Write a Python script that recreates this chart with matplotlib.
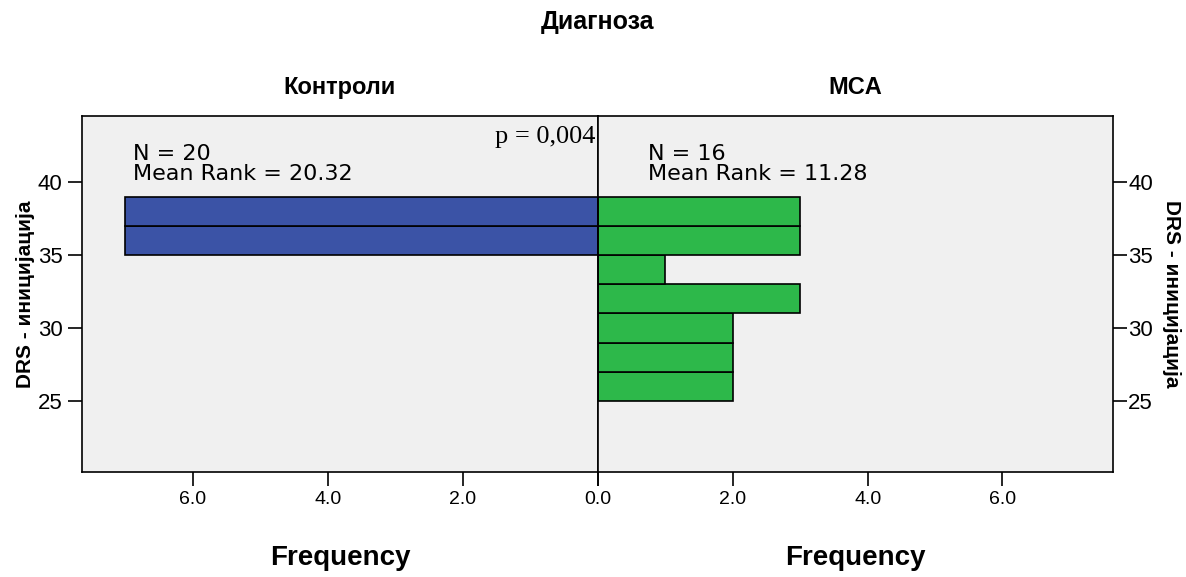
import matplotlib
matplotlib.use("Agg")
import matplotlib.pyplot as plt

# Data
bin_edges_low = [25, 27, 29, 31, 33, 35, 37]
freq_control = [0, 0, 0, 0, 0, 7, 7]
freq_mca = [2, 2, 2, 3, 1, 3, 3]
groups = ["Контроли", "MCA"]
n_vals = [20, 16]
mean_ranks = [20.32, 11.28]
x_ticks = [0.0, 2.0, 4.0, 6.0]
y_ticks = [25, 30, 35, 40]
bin_width = 2

blue = '#3B53A6'
green = '#2DB84A'
bg = '#F0F0F0'
sans = 'Liberation Sans'

fig = plt.figure(figsize=(11.86, 5.77), dpi=100)
W, H = 1186, 577
left_px, mid_px, right_px, top_px, bot_px = 82, 598, 1113, 116, 472
axL = fig.add_axes([left_px / W, 1 - bot_px / H, (mid_px - left_px) / W, (bot_px - top_px) / H])
axR = fig.add_axes([mid_px / W, 1 - bot_px / H, (right_px - mid_px) / W, (bot_px - top_px) / H])

ylim = (20.14, 44.52)
xmax = 7.64

for ax, freqs, color in [(axL, freq_control, blue), (axR, freq_mca, green)]:
    ax.set_facecolor(bg)
    ax.barh([b for b, f in zip(bin_edges_low, freqs) if f > 0],
            [f for f in freqs if f > 0], height=bin_width, align='edge',
            color=color, edgecolor='black', linewidth=1.2)
    ax.set_ylim(*ylim)
    ax.set_yticks(y_ticks)
    ax.set_yticklabels([str(t) for t in y_ticks], fontsize=16, family=sans)
    for s in ax.spines.values():
        s.set_linewidth(1.2)
    ax.tick_params(axis='both', length=10, width=1.2, pad=4)
    ax.set_xlabel("Frequency", fontsize=20, fontweight='bold', family=sans, labelpad=26)

axL.set_xticks(x_ticks)
axL.set_xticklabels(["" if t == 0 else f"{t:.1f}" for t in x_ticks], fontsize=14, family=sans)
axR.set_xticks(x_ticks)
axR.set_xticklabels([f"{t:.1f}" for t in x_ticks], fontsize=14, family=sans)

axL.set_xlim(xmax, 0)
axR.set_xlim(0, xmax)
axL.set_ylabel("DRS - иницијација", fontsize=15, fontweight='bold', family=sans, labelpad=2)
axR.yaxis.tick_right()
axR.yaxis.set_label_position('right')
axR.set_ylabel("DRS - иницијација", fontsize=15, fontweight='bold', family=sans,
               rotation=270, labelpad=20)
axR.tick_params(axis='y', pad=1)

axL.set_title(groups[0], fontsize=17, fontweight='bold', family=sans, pad=16)
axR.set_title(groups[1], fontsize=17, fontweight='bold', family=sans, pad=16)
fig.text(0.504, 1 - 22 / H, "Диагноза", ha='center', va='center', fontsize=18,
         fontweight='bold', family=sans)

axL.text(0.0995, 0.865, f"N = {n_vals[0]}\nMean Rank = {mean_ranks[0]:.2f}",
         transform=axL.transAxes, fontsize=16, family='DejaVu Sans', va='center',
         linespacing=1.05)
axR.text(0.097, 0.865, f"N = {n_vals[1]}\nMean Rank = {mean_ranks[1]:.2f}",
         transform=axR.transAxes, fontsize=16, family='DejaVu Sans', va='center',
         linespacing=1.05)
axL.text(0.995, 0.94, "p = 0,004", transform=axL.transAxes, fontsize=19,
         family='Liberation Serif', ha='right', va='center')

fig.savefig("out.png", dpi=100, facecolor='white')
